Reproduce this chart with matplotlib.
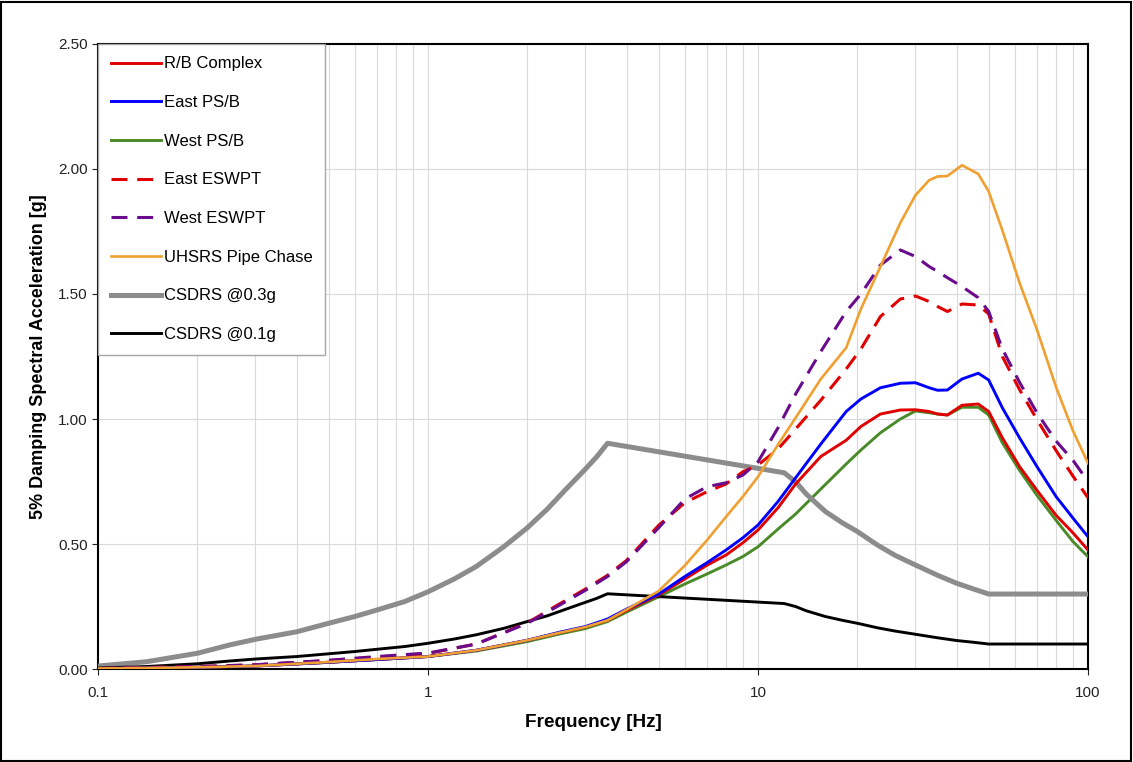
import numpy as np
import matplotlib
matplotlib.use("Agg")
import matplotlib.pyplot as plt
from matplotlib.ticker import FixedLocator, LogLocator, NullFormatter, FuncFormatter
from matplotlib.patches import Rectangle

plt.rcParams['font.family'] = ['Liberation Sans', 'DejaVu Sans']
plt.rcParams['lines.scale_dashes'] = False

# frequencies [Hz] shared by the in-structure spectra
freq = [0.1, 0.2, 0.3, 0.5, 0.7, 1.0, 1.4, 2.0, 2.5, 3.0, 3.5, 4.0, 5.0, 6.0, 7.0,
        8.0, 9.0, 10, 11.5, 13, 15.5, 18.5, 20.5, 23.5, 27, 30, 33, 35, 37.5, 41.5,
        46.5, 50, 55, 62, 70, 80, 90, 100]

rb_complex = [0.002, 0.007, 0.012, 0.027, 0.038, 0.050, 0.075, 0.115, 0.145, 0.168, 0.195,
              0.235, 0.296, 0.360, 0.415, 0.456, 0.505, 0.556, 0.645, 0.740, 0.850, 0.915,
              0.970, 1.020, 1.036, 1.037, 1.030, 1.020, 1.016, 1.055, 1.060, 1.030, 0.925,
              0.810, 0.715, 0.615, 0.545, 0.476]
east_psb = [0.002, 0.007, 0.012, 0.027, 0.038, 0.050, 0.075, 0.115, 0.147, 0.170, 0.200,
            0.240, 0.300, 0.370, 0.425, 0.476, 0.525, 0.576, 0.670, 0.765, 0.900, 1.030,
            1.080, 1.125, 1.143, 1.145, 1.125, 1.115, 1.116, 1.160, 1.183, 1.156, 1.045,
            0.925, 0.810, 0.690, 0.604, 0.529]
west_psb = [0.002, 0.007, 0.012, 0.027, 0.038, 0.050, 0.072, 0.110, 0.140, 0.162, 0.190,
            0.228, 0.289, 0.340, 0.380, 0.416, 0.450, 0.489, 0.560, 0.620, 0.720, 0.820,
            0.876, 0.945, 1.000, 1.032, 1.025, 1.020, 1.016, 1.047, 1.047, 1.016, 0.905,
            0.795, 0.695, 0.595, 0.510, 0.449]
east_eswpt = [0.002, 0.010, 0.017, 0.034, 0.048, 0.062, 0.100, 0.185, 0.260, 0.320, 0.375,
              0.435, 0.575, 0.665, 0.709, 0.740, 0.789, 0.816, 0.880, 0.960, 1.075, 1.200,
              1.280, 1.410, 1.480, 1.492, 1.470, 1.450, 1.430, 1.460, 1.456, 1.420, 1.250,
              1.118, 0.998, 0.874, 0.772, 0.685]
west_eswpt = [0.002, 0.010, 0.017, 0.035, 0.050, 0.064, 0.100, 0.183, 0.255, 0.315, 0.370,
              0.430, 0.565, 0.680, 0.729, 0.745, 0.776, 0.829, 0.965, 1.100, 1.270, 1.430,
              1.500, 1.616, 1.676, 1.650, 1.610, 1.590, 1.565, 1.530, 1.485, 1.430, 1.280,
              1.147, 1.025, 0.912, 0.835, 0.750]
uhsrs = [0.002, 0.007, 0.012, 0.028, 0.040, 0.050, 0.075, 0.115, 0.145, 0.168, 0.195,
         0.238, 0.312, 0.414, 0.515, 0.609, 0.690, 0.769, 0.898, 1.005, 1.160, 1.285,
         1.440, 1.610, 1.785, 1.895, 1.955, 1.970, 1.972, 2.015, 1.980, 1.910, 1.755,
         1.545, 1.358, 1.128, 0.953, 0.823]

# design spectra
csdrs_freq = [0.1, 0.14, 0.2, 0.25, 0.3, 0.4, 0.5, 0.6, 0.7, 0.85, 1.0, 1.2, 1.4, 1.7,
              2.0, 2.3, 2.6, 3.0, 3.25, 3.5, 12, 13, 14, 16, 18, 20, 23, 26, 30, 35,
              40, 45, 50, 100]
csdrs_03 = [0.012, 0.029, 0.063, 0.096, 0.119, 0.149, 0.183, 0.210, 0.236, 0.270, 0.309,
            0.360, 0.410, 0.490, 0.565, 0.640, 0.715, 0.800, 0.850, 0.903, 0.785, 0.749,
            0.700, 0.630, 0.585, 0.550, 0.496, 0.455, 0.416, 0.375, 0.343, 0.320, 0.300, 0.300]
csdrs_01 = [0.004, 0.010, 0.021, 0.032, 0.040, 0.050, 0.061, 0.070, 0.079, 0.090, 0.103,
            0.120, 0.137, 0.163, 0.190, 0.213, 0.238, 0.267, 0.283, 0.301, 0.262, 0.250,
            0.233, 0.210, 0.195, 0.183, 0.165, 0.152, 0.139, 0.125, 0.114, 0.107, 0.100, 0.100]

fig = plt.figure(figsize=(11.33, 7.62), dpi=100)
ax = fig.add_axes([0.0865, 0.122, 0.8738, 0.8203])

dash = (0, (11.5, 7.0))
ax.plot(freq, rb_complex, color='#e00000', lw=2.1, label='R/B Complex', zorder=4)
ax.plot(freq, east_psb, color='#0000ff', lw=2.1, label='East PS/B', zorder=4)
ax.plot(freq, west_psb, color='#4a8a28', lw=2.1, label='West PS/B', zorder=3)
ax.plot(freq, east_eswpt, color='#e00000', lw=2.2, ls=dash, label='East ESWPT', zorder=4)
ax.plot(freq, west_eswpt, color='#6a0a8c', lw=2.2, ls=dash, label='West ESWPT', zorder=4)
ax.plot(freq, uhsrs, color='#f0a030', lw=1.9, label='UHSRS Pipe Chase', zorder=4)
ax.plot(csdrs_freq, csdrs_03, color='#8c8c8c', lw=3.6, label='CSDRS @0.3g', zorder=3)
ax.plot(csdrs_freq, csdrs_01, color='black', lw=2.1, label='CSDRS @0.1g', zorder=3)

ax.set_xscale('log')
ax.set_xlim(0.1, 100)
ax.set_ylim(0, 2.5)
ax.xaxis.set_major_locator(FixedLocator([0.1, 1, 10, 100]))
ax.xaxis.set_major_formatter(FuncFormatter(lambda v, p: '%g' % v))
ax.xaxis.set_minor_locator(LogLocator(base=10, subs=np.arange(2, 10)))
ax.xaxis.set_minor_formatter(NullFormatter())
ax.yaxis.set_major_locator(FixedLocator([0, 0.5, 1.0, 1.5, 2.0, 2.5]))
ax.yaxis.set_major_formatter(FuncFormatter(lambda v, p: '%.2f' % v))

ax.grid(True, which='both', axis='x', color='#d9d9d9', lw=0.8)
ax.grid(True, which='major', axis='y', color='#d9d9d9', lw=0.8)
ax.set_axisbelow(True)
ax.tick_params(axis='both', which='major', direction='out', length=4, width=0.8,
               labelsize=11, colors='#222222')
ax.tick_params(axis='x', which='minor', length=0)
ax.tick_params(axis='x', pad=8)
for s in ax.spines.values():
    s.set_color('black')
    s.set_linewidth(1.5)

ax.set_xlabel('Frequency [Hz]', fontsize=13.7, fontweight='bold', labelpad=10)
ax.set_ylabel('5% Damping Spectral Acceleration [g]', fontsize=13, fontweight='bold', labelpad=8)

leg = ax.legend(loc='upper left', bbox_to_anchor=(0, 1), borderaxespad=0, fontsize=12,
                frameon=True, fancybox=False, edgecolor='#a6a6a6', framealpha=1,
                handlelength=3.0, handletextpad=0.2, labelspacing=1.42, borderpad=0.75)
leg.get_frame().set_linewidth(1.0)

fig.patches.append(Rectangle((0.001, 0.001), 0.997, 0.997, transform=fig.transFigure,
                             fill=False, edgecolor='black', lw=1.5))

fig.savefig('out.png', dpi=100)
